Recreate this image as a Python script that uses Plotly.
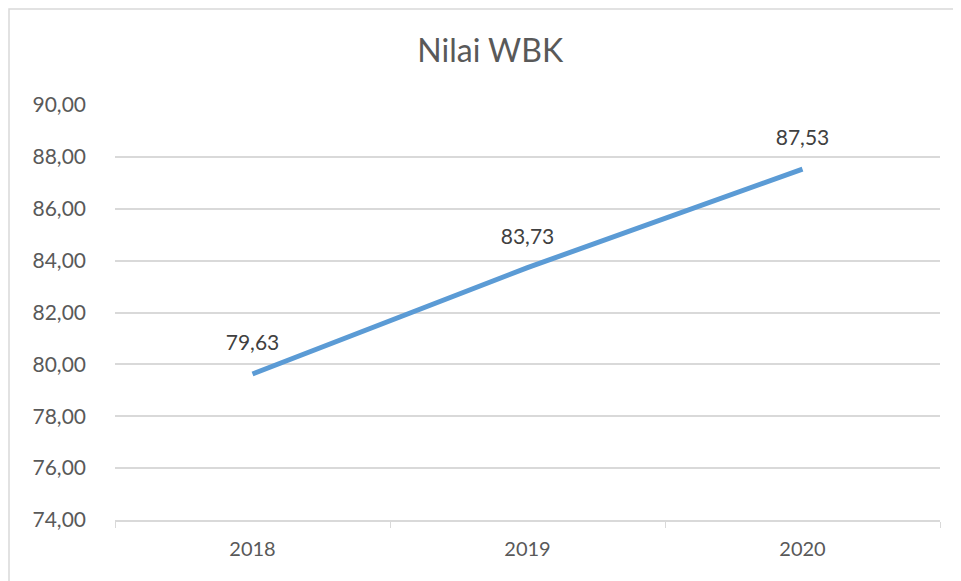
import plotly.graph_objects as go

# data
years = ["2018", "2019", "2020"]
nilai = [79.63, 83.73, 87.53]
judul = "Nilai WBK"

font_nama = "Lato, 'Open Sans', sans-serif"
abu = "#595959"

# halaman html punya margin 8px, jadi ukuran figure dikurangi
W, H = 953, 573
kiri, kanan, atas, bawah = 107, 21, 97, 61
lebar_plot = W - kiri - kanan
tinggi_plot = H - atas - bawah

fig = go.Figure()
fig.add_trace(go.Scatter(
    x=years, y=nilai,
    mode="lines",
    line=dict(color="#5B9BD5", width=5),
    hoverinfo="x+y",
    showlegend=False))

# label angka di atas titik (marker transparan supaya teks agak naik)
fig.add_trace(go.Scatter(
    x=years, y=nilai,
    mode="markers+text",
    marker=dict(size=28, opacity=0),
    text=[f"{v:.2f}".replace(".", ",") for v in nilai],
    textposition="top center",
    textfont=dict(size=21, color="#404040", family=font_nama),
    hoverinfo="skip",
    showlegend=False))

# bingkai chart
fig.add_shape(type="rect", xref="paper", yref="paper",
              x0=(1 - kiri) / lebar_plot, x1=(W + 5 - kiri) / lebar_plot,
              y0=-(bawah + 10) / tinggi_plot, y1=(tinggi_plot + atas - 1) / tinggi_plot,
              line=dict(color="#d9d9d9", width=1.5))

fig.update_layout(
    width=W, height=H,
    margin=dict(l=kiri, r=kanan, t=atas, b=bawah),
    paper_bgcolor="white", plot_bgcolor="white",
    separators=",.",
    title=dict(text=judul, x=0.506, xanchor="center", y=0.925, yanchor="middle",
               font=dict(size=32, color=abu, family=font_nama)),
    font=dict(family=font_nama, size=20, color=abu),
    xaxis=dict(type="category", range=[-0.5, 2.5], tickson="boundaries",
               ticks="outside", ticklen=6, tickcolor="#d9d9d9",
               showline=True, linecolor="#d9d9d9", linewidth=1.5,
               showgrid=False, zeroline=False,
               ticklabelstandoff=10,
               tickfont=dict(size=20, color=abu)),
    yaxis=dict(range=[74, 90], dtick=2, tickformat=".2f",
               showgrid=True, gridcolor="#d9d9d9", gridwidth=1.5,
               zeroline=False, showline=False, ticks="",
               ticklabelstandoff=28,
               tickfont=dict(size=21, color=abu)),
)

fig.write_html("out.html")
